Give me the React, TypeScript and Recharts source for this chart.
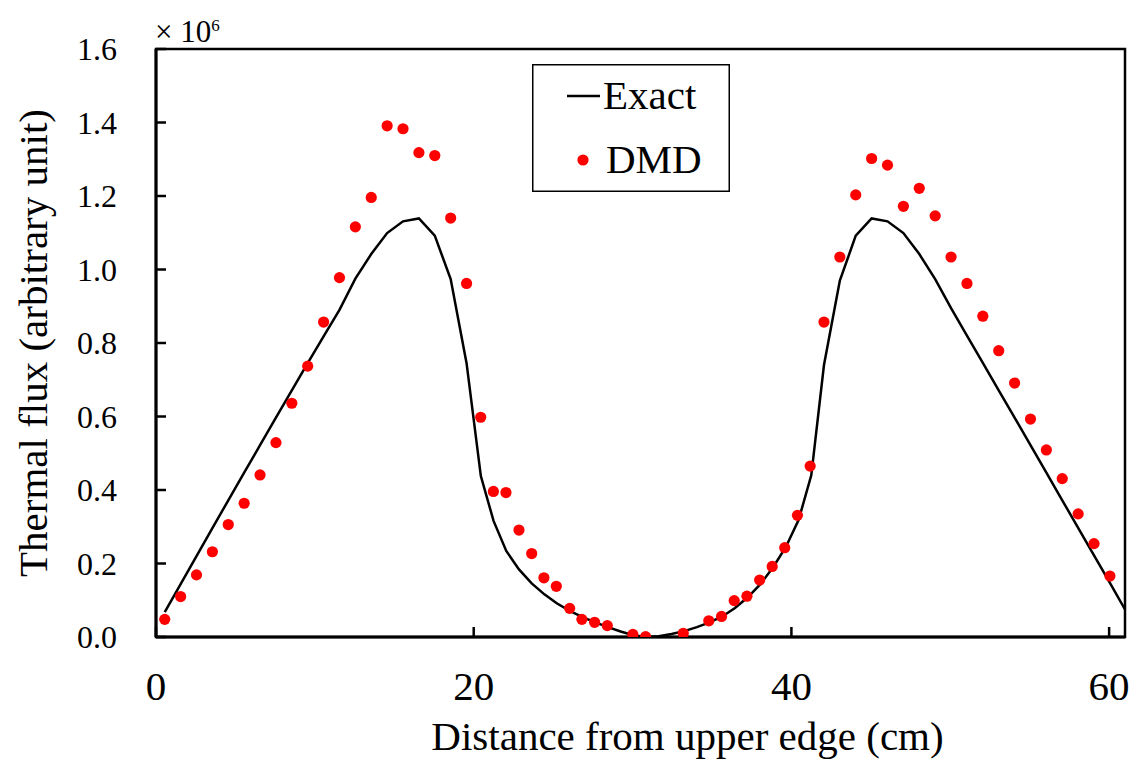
import {
  ComposedChart,
  Legend,
  Line,
  ReferenceArea,
  Scatter,
  XAxis,
  YAxis,
} from "recharts";

// Exact solution (polyline vertices)
const exactX = [
  0.55, 1.55, 2.55, 3.55, 4.55, 5.55, 6.55, 7.55, 8.55, 9.55, 10.55, 11.55,
  12.55, 13.55, 14.55, 15.55, 16.55, 17.55, 18.55, 19.55, 20.45, 21.25, 22.05,
  22.85, 23.65, 24.45, 25.25, 26.05, 26.85, 27.65, 28.45, 29.25, 30.05, 30.85,
  31.65, 32.45, 33.25, 34.05, 34.85, 35.65, 36.45, 37.25, 38.05, 38.85, 39.65,
  40.45, 41.25, 42.05, 43.05, 44.05, 45.05, 46.05, 47.05, 48.05, 49.05, 50.05,
  51.05, 52.05, 53.05, 54.05, 55.05, 56.05, 57.05, 58.05, 59.05, 60.05, 61.0,
];
const exactY = [
  0.068, 0.144, 0.22, 0.296, 0.372, 0.447, 0.522, 0.597, 0.671, 0.745, 0.818,
  0.89, 0.975, 1.042, 1.099, 1.131, 1.139, 1.092, 0.974, 0.745, 0.438, 0.316,
  0.234, 0.184, 0.146, 0.116, 0.091, 0.071, 0.054, 0.04, 0.027, 0.015, 0.005,
  0.0, 0.002, 0.008, 0.016, 0.027, 0.04, 0.056, 0.079, 0.108, 0.144, 0.19,
  0.245, 0.318, 0.44, 0.74, 0.97, 1.092, 1.139, 1.131, 1.099, 1.042, 0.974,
  0.895, 0.82, 0.746, 0.671, 0.597, 0.522, 0.447, 0.372, 0.297, 0.222, 0.147,
  0.075,
];

// DMD reconstruction (markers)
const dmdX = [
  0.55, 1.55, 2.55, 3.55, 4.55, 5.55, 6.55, 7.55, 8.55, 9.55, 10.55, 11.55,
  12.55, 13.55, 14.55, 15.55, 16.55, 17.55, 18.55, 19.55, 20.44, 21.24, 22.03,
  22.85, 23.65, 24.42, 25.2, 26.04, 26.81, 27.61, 28.41, 30.02, 30.82, 33.19,
  34.8, 35.6, 36.4, 37.2, 38.0, 38.79, 39.58, 40.38, 41.18, 42.05, 43.05,
  44.05, 45.05, 46.05, 47.05, 48.05, 49.05, 50.05, 51.05, 52.05, 53.05, 54.05,
  55.05, 56.05, 57.05, 58.05, 59.05, 60.05,
];
const dmdY = [
  0.048, 0.11, 0.169, 0.232, 0.306, 0.364, 0.441, 0.529, 0.636, 0.737, 0.857,
  0.978, 1.116, 1.196, 1.391, 1.383, 1.318, 1.31, 1.14, 0.962, 0.598, 0.396,
  0.393, 0.291, 0.227, 0.161, 0.138, 0.078, 0.048, 0.04, 0.031, 0.007, 0.001,
  0.01, 0.044, 0.056, 0.099, 0.111, 0.155, 0.192, 0.243, 0.331, 0.465, 0.857,
  1.034, 1.203, 1.302, 1.284, 1.172, 1.221, 1.146, 1.034, 0.962, 0.873, 0.779,
  0.691, 0.593, 0.509, 0.431, 0.335, 0.254, 0.166,
];

const xTicks = [0, 20, 40, 60];
const yTicks = [0, 0.2, 0.4, 0.6, 0.8, 1.0, 1.2, 1.4, 1.6];

const exactData = exactX.map((x, i) => ({ x, y: exactY[i] }));
const dmdData = dmdX.map((x, i) => ({ x, y: dmdY[i] }));

const FONT = "Liberation Serif, Tinos, Times New Roman, DejaVu Serif, serif";

function LegendBox({ payload }: any) {
  const items = payload || [];
  const line = items.find((p: any) => p.value === "Exact");
  const dot = items.find((p: any) => p.value === "DMD");
  return (
    <svg width={198} height={128} style={{ display: "block", fontFamily: FONT }}>
      <rect x={0.75} y={0.75} width={196.5} height={126.5} fill="#fff" stroke="#000" strokeWidth={1.5} />
      <line x1={35} x2={68} y1={32} y2={32} stroke={line?.color || "#000"} strokeWidth={2.5} />
      <text x={71} y={45} fontSize={41} fill="#000">
        {line?.value}
      </text>
      <circle cx={51} cy={96} r={5.6} fill={dot?.color || "#ff0000"} />
      <text x={74} y={109} fontSize={41} fill="#000">
        {dot?.value}
      </text>
    </svg>
  );
}

export default function App() {
  return (
    <div style={{ position: "relative", width: 1122, height: 751, fontFamily: FONT }}>
      <ComposedChart
        width={1122}
        height={751}
        margin={{ top: 41, right: 5, left: 0, bottom: 0 }}
        style={{ fontFamily: FONT }}
      >
        <XAxis
          dataKey="x"
          type="number"
          domain={[0, 61]}
          ticks={xTicks}
          allowDataOverflow
          height={122}
          axisLine={{ stroke: "#000", strokeWidth: 3 }}
          tickLine={{ stroke: "#000", strokeWidth: 2.5 }}
          tickSize={-10}
          tickMargin={44}
          tick={{ fontSize: 41, fill: "#000", fontFamily: FONT }}
          label={{
            value: "Distance from upper edge (cm)",
            position: "insideBottom",
            offset: 9,
            dx: 47,
            style: { fontSize: 41, fill: "#000", fontFamily: FONT },
          }}
        />
        <YAxis
          type="number"
          domain={[0, 1.6]}
          ticks={yTicks}
          allowDataOverflow
          width={148}
          axisLine={{ stroke: "#000", strokeWidth: 3 }}
          tickLine={{ stroke: "#000", strokeWidth: 2.5 }}
          tickSize={-10}
          tickMargin={49}
          tick={{ fontSize: 32, fill: "#000", fontFamily: FONT }}
          tickFormatter={(v: number) => v.toFixed(1)}
          label={{
            value: "Thermal flux (arbitrary unit)",
            angle: -90,
            position: "insideLeft",
            offset: 24,
            style: { textAnchor: "middle", fontSize: 41, fill: "#000", fontFamily: FONT },
          }}
        />
        <ReferenceArea
          x1={0}
          x2={61}
          y1={0}
          y2={1.6}
          fill="none"
          stroke="#000"
          strokeWidth={2.5}
          ifOverflow="visible"
        />
        <Line
          data={exactData}
          dataKey="y"
          name="Exact"
          type="linear"
          stroke="#000"
          strokeWidth={2.5}
          dot={false}
          activeDot={false}
          isAnimationActive={false}
          legendType="line"
        />
        <Scatter
          data={dmdData}
          dataKey="y"
          name="DMD"
          fill="#ff0000"
          isAnimationActive={false}
          shape={(p: any) => <circle cx={p.cx} cy={p.cy} r={5.6} fill="#ff0000" />}
        />
        <Legend
          layout="vertical"
          align="center"
          verticalAlign="middle"
          content={<LegendBox />}
          wrapperStyle={{ left: 524, top: 56, width: 198, height: 128 }}
        />
      </ComposedChart>
      <div
        style={{
          position: "absolute",
          left: 147,
          top: 2,
          fontSize: 31,
          lineHeight: "31px",
          color: "#000",
          whiteSpace: "nowrap",
        }}
      >
        × 10<span style={{ fontSize: 17, verticalAlign: 11 }}>6</span>
      </div>
    </div>
  );
}
